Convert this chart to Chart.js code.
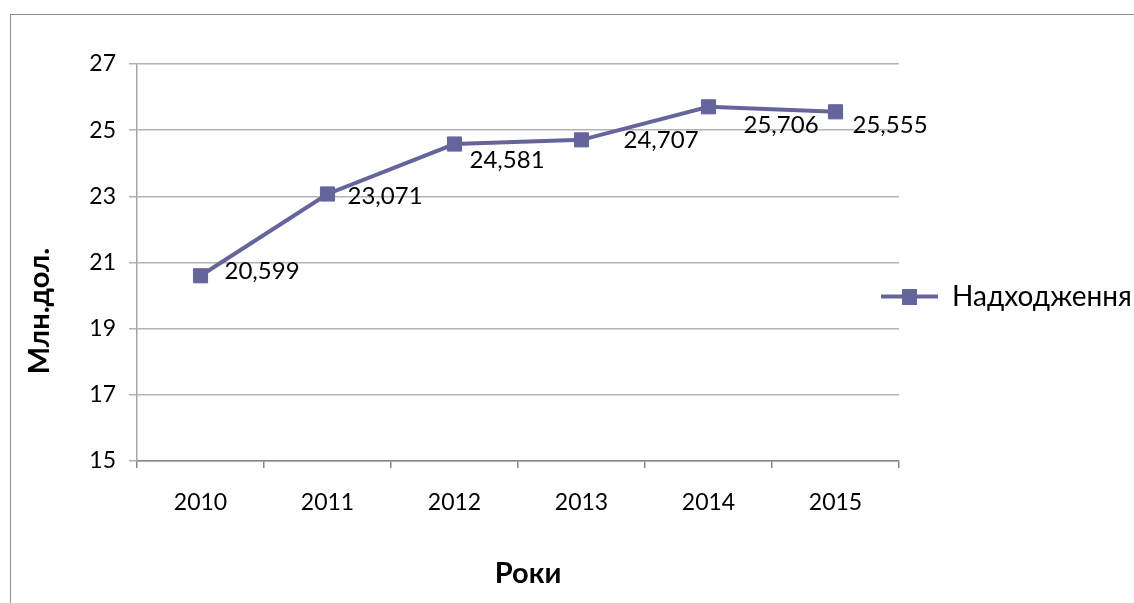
<!DOCTYPE html>
<html>
<head>
<meta charset="utf-8">
<script src="https://cdn.jsdelivr.net/npm/chart.js@4/dist/chart.umd.min.js"></script>
<style>
html, body { margin: 0; padding: 0; background: #fff; overflow: hidden; }
#wrap { position: relative; width: 1134px; height: 603px; overflow: hidden; }
#frame { position: absolute; left: 10px; top: 14px; width: 1300px; height: 800px; border: 1.5px solid #8f8f8f; }
#myChart { position: absolute; left: 0; top: 0; }
</style>
</head>
<body>
<div id="wrap">
  <div id="frame"></div>
  <canvas id="myChart" width="1134" height="603"></canvas>
</div>
<script>
// Years along the x-axis
var years = ["2010", "2011", "2012", "2013", "2014", "2015"];
// Income, mln dollars
var income = [20.599, 23.071, 24.581, 24.707, 25.706, 25.555];
var seriesName = "Надходження";
var yMin = 15, yMax = 27, yStep = 2;
var xTitle = "Роки";
var yTitle = "Млн.дол.";

var lineColor = "#65659b";

// where each value label sits relative to its point (dx, dy)
var labelShift = [[24, -5], [20, 2], [15, 16], [42, 0], [35, 18], [17, 13]];

// legend icon: line with a square on it
var icon = document.createElement("canvas");
icon.width = 57;
icon.height = 16;
var g = icon.getContext("2d");
g.fillStyle = lineColor;
g.fillRect(0, 6, 57, 4);
g.fillRect(21, 0, 15, 16);

var dataLabels = {
    id: "dataLabels",
    afterDatasetsDraw: function (chart) {
        var ctx = chart.ctx;
        var meta = chart.getDatasetMeta(0);
        ctx.save();
        ctx.font = "24px Lato";
        ctx.fillStyle = "#000";
        ctx.textAlign = "left";
        ctx.textBaseline = "middle";
        meta.data.forEach(function (pt, i) {
            var txt = income[i].toFixed(3).replace(".", ",");
            ctx.fillText(txt, pt.x + labelShift[i][0], pt.y + labelShift[i][1]);
        });
        ctx.restore();
    }
};

var axisTitles = {
    id: "axisTitles",
    afterDraw: function (chart) {
        var ctx = chart.ctx;
        ctx.save();
        ctx.font = "bold 29px Lato";
        ctx.fillStyle = "#000";
        ctx.textAlign = "center";
        ctx.textBaseline = "middle";
        ctx.fillText(xTitle, 528, 574);
        ctx.translate(40, 311);
        ctx.rotate(-Math.PI / 2);
        ctx.fillText(yTitle, 0, 0);
        ctx.restore();
    }
};

// nudge the legend to where the original sits
var legendPlace = {
    id: "legendPlace",
    afterLayout: function (chart) {
        var lg = chart.legend;
        lg.left -= 28;
        lg.top -= 37;
        lg.bottom -= 37;
    }
};

var ctx = document.getElementById("myChart");

var myChart = new Chart(ctx, {
    type: "line",
    data: {
        labels: years,
        datasets: [
            {
                label: seriesName,
                data: income,
                borderColor: lineColor,
                backgroundColor: lineColor,
                borderWidth: 4,
                pointStyle: "rect",
                pointRadius: 10,
                pointBorderWidth: 1,
                pointBackgroundColor: lineColor,
                pointBorderColor: lineColor,
                tension: 0,
                fill: false
            }
        ]
    },
    options: {
        responsive: false,
        animation: false,
        layout: {
            padding: { left: 0, right: 0, top: 64, bottom: 0 }
        },
        plugins: {
            tooltip: { enabled: false },
            legend: {
                display: true,
                position: "right",
                align: "center",
                maxWidth: 235,
                labels: {
                    usePointStyle: true,
                    pointStyle: icon,
                    pointStyleWidth: 57,
                    color: "#000",
                    padding: 10,
                    font: { family: "Lato", size: 28 }
                }
            }
        },
        scales: {
            x: {
                offset: true,
                grid: {
                    offset: true,
                    drawOnChartArea: false,
                    tickLength: 7,
                    color: "#868686",
                    lineWidth: 1.5
                },
                border: { color: "#868686", width: 1.5 },
                ticks: {
                    color: "#000",
                    padding: 21,
                    font: { family: "Lato", size: 23 }
                },
                afterFit: function (s) { s.height = 142; }
            },
            y: {
                min: yMin,
                max: yMax,
                grid: {
                    tickLength: 8,
                    color: "#b3b3b3",
                    lineWidth: 1.5
                },
                border: { color: "#a6a6a6", width: 1.5 },
                ticks: {
                    stepSize: yStep,
                    color: "#000",
                    padding: 13,
                    font: { family: "Lato", size: 23 }
                },
                afterFit: function (s) { s.width = 137; }
            }
        }
    },
    plugins: [dataLabels, axisTitles, legendPlace]
});
</script>
</body>
</html>
